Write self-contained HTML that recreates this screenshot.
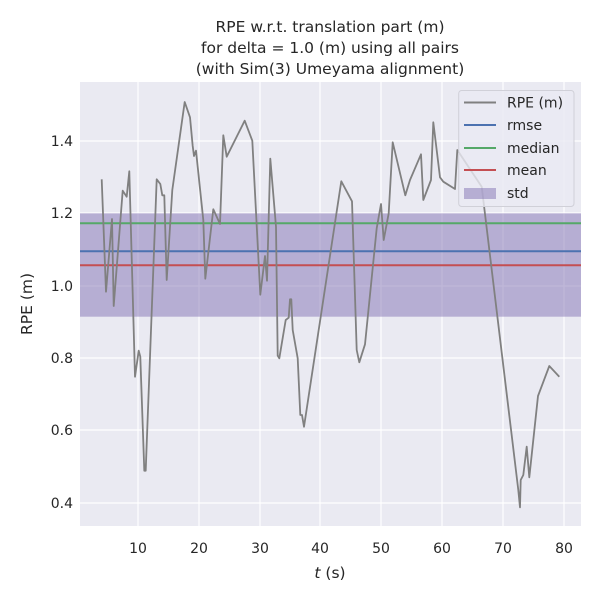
<!DOCTYPE html>
<html><head><style>body{margin:0;background:#fff}</style></head><body>
<svg width="600" height="600" xmlns="http://www.w3.org/2000/svg" font-family="DejaVu Sans, Liberation Sans, sans-serif">
<rect x="80" y="82" width="501" height="444" fill="#eaeaf2"/>
<g stroke="#fff" stroke-width="1.2">
<line x1="138" y1="82" x2="138" y2="526"/><line x1="199" y1="82" x2="199" y2="526"/><line x1="260" y1="82" x2="260" y2="526"/><line x1="320" y1="82" x2="320" y2="526"/><line x1="381" y1="82" x2="381" y2="526"/><line x1="442" y1="82" x2="442" y2="526"/><line x1="503" y1="82" x2="503" y2="526"/><line x1="564" y1="82" x2="564" y2="526"/>
<line x1="80" y1="141" x2="581" y2="141"/><line x1="80" y1="213" x2="581" y2="213"/><line x1="80" y1="286" x2="581" y2="286"/><line x1="80" y1="358" x2="581" y2="358"/><line x1="80" y1="430" x2="581" y2="430"/><line x1="80" y1="503" x2="581" y2="503"/>
</g>
<rect x="80" y="213.3" width="501" height="103.4" fill="#8172b3" fill-opacity="0.5"/>
<line x1="80" y1="223.3" x2="581" y2="223.3" stroke="#55a868" stroke-width="2"/>
<line x1="80" y1="251.3" x2="581" y2="251.3" stroke="#4c72b0" stroke-width="2"/>
<line x1="80" y1="265.3" x2="581" y2="265.3" stroke="#c44e52" stroke-width="2"/>
<polyline fill="none" stroke="#808080" stroke-width="1.8" stroke-linejoin="round" points="101.7,179.3 106,291.7 112,219 113.7,306 122.7,190.7 126.7,196.7 129.3,171.3 135,376.7 138.7,350.7 140.3,356.7 144.3,470.7 145.7,470.7 156.7,179.3 160.3,184 162.3,195.3 164.3,195.3 166.7,280 172.3,190 184.7,102 190,117.3 192.7,146 194,156 196,150.7 203.3,220 205.3,278.7 213.3,209.3 220,224 223.3,135.3 226.7,156.7 244.7,120.7 252.3,140.7 260.3,294.7 265,256 267,280.7 270.3,158.7 276,226.7 277.7,355.7 279.3,358.3 285.7,320 288.7,317.7 290,299.3 291.3,299.3 292.7,330 297.7,358.3 300.3,415 302,415 304,426.7 341.3,181.3 352,201.3 356.7,350 359.3,362.3 365,344.3 376.7,228.3 381,204 383.7,240 388.7,213.3 392.7,142.3 405.3,195.3 410,180 421,154.3 423.3,200 431,180 433.3,122.3 440,177.3 443.3,181.7 455,189 457.3,150 481.7,186.7 518.3,490 520,507.3 520.7,480 523.3,475 526.7,446.7 529.3,477.3 538,396 549.3,366 559.3,376.7"/>
<g font-size="14" fill="#262626" text-anchor="middle">
<text x="138" y="553">10</text><text x="199" y="553">20</text><text x="260" y="553">30</text><text x="320" y="553">40</text><text x="381" y="553">50</text><text x="442" y="553">60</text><text x="503" y="553">70</text><text x="564" y="553">80</text>
</g>
<g font-size="14" fill="#262626" text-anchor="end">
<text x="73" y="146">1.4</text><text x="73" y="218">1.2</text><text x="73" y="291">1.0</text><text x="73" y="363">0.8</text><text x="73" y="435">0.6</text><text x="73" y="508">0.4</text>
</g>
<text x="330" y="578" font-size="15.5" fill="#262626" text-anchor="middle"><tspan font-style="italic">t</tspan> (s)</text>
<text transform="translate(32,304) rotate(-90)" font-size="15.5" fill="#262626" text-anchor="middle">RPE (m)</text>
<g font-size="15.5" fill="#262626" text-anchor="middle">
<text x="330" y="32">RPE w.r.t. translation part (m)</text>
<text x="330" y="53">for delta = 1.0 (m) using all pairs</text>
<text x="330" y="74">(with Sim(3) Umeyama alignment)</text>
</g>
<rect x="458.7" y="90.5" width="115.3" height="116" rx="3" fill="#eaeaf2" fill-opacity="0.8" stroke="#d0d0d8"/>
<line x1="464" y1="102.5" x2="496" y2="102.5" stroke="#808080" stroke-width="2"/>
<line x1="464" y1="125" x2="496" y2="125" stroke="#4c72b0" stroke-width="2"/>
<line x1="464" y1="148" x2="496" y2="148" stroke="#55a868" stroke-width="2"/>
<line x1="464" y1="170" x2="496" y2="170" stroke="#c44e52" stroke-width="2"/>
<rect x="464" y="188" width="32" height="11" fill="#8172b3" fill-opacity="0.5"/>
<g font-size="14" fill="#262626">
<text x="507" y="107.5">RPE (m)</text><text x="507" y="130">rmse</text><text x="507" y="153">median</text><text x="507" y="175">mean</text><text x="507" y="198">std</text>
</g>
</svg>
</body></html>
